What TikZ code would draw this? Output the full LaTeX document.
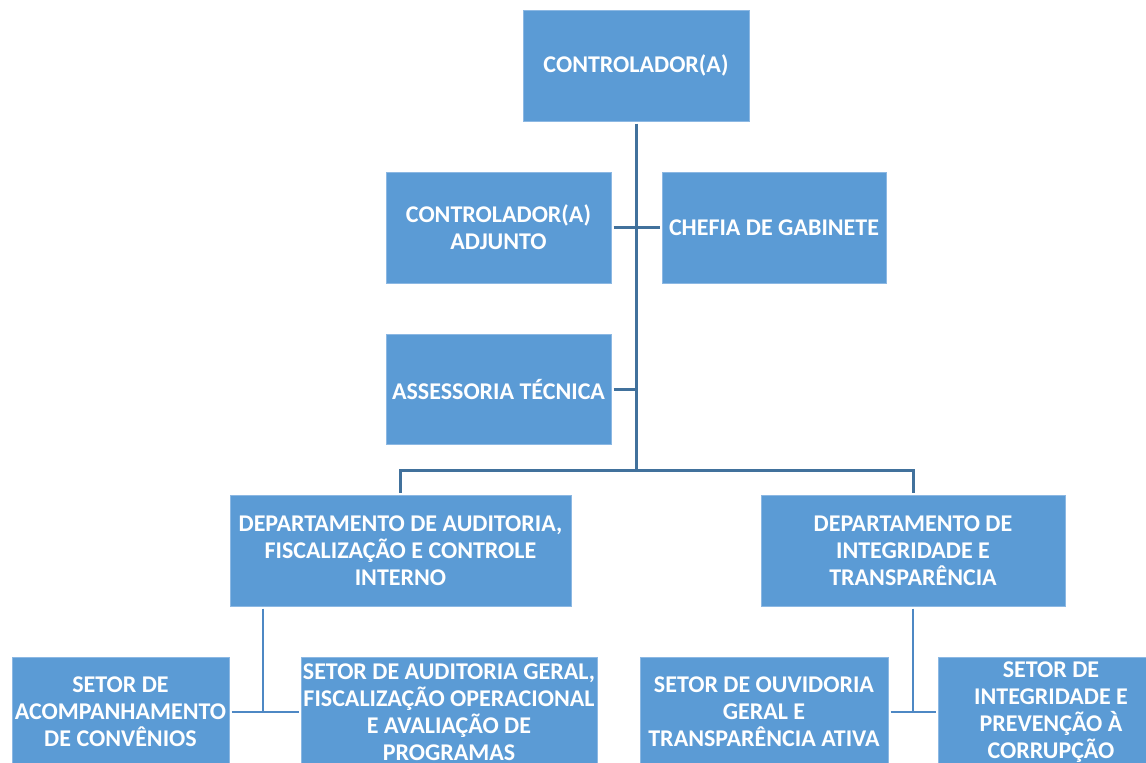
\documentclass[tikz,border=0pt]{standalone}
\usepackage{fontspec}
\setmainfont{Carlito}
\definecolor{boxfill}{HTML}{5B9BD5}
\definecolor{boxedge}{HTML}{8CB8E3}
\definecolor{trunkline}{HTML}{41719C}
\definecolor{subline}{HTML}{4E88C4}
\tikzset{
  orgbox/.style={rectangle, fill=boxfill, draw=boxedge, line width=0.8pt,
    text=white, align=center, inner sep=0pt, outer sep=2.5pt,
    font=\fontsize{24}{27}\selectfont\bfseries},
  trunk/.style={draw=trunkline, line width=3pt},
  branch/.style={draw=subline, line width=2.6pt}
}
\begin{document}
\begin{tikzpicture}[x=1pt,y=-1pt]
\useasboundingbox (0,0) rectangle (1146,763);
\clip (0,0) rectangle (1146,763);
\node[orgbox, minimum width=226, minimum height=111] (ctrl) at (636,65.5) {CONTROLADOR(A)};
\node[orgbox, minimum width=225, minimum height=111] (adj) at (498.5,227.5) {CONTROLADOR(A)\\ADJUNTO};
\node[orgbox, minimum width=224, minimum height=111] (chef) at (774,227.5) {CHEFIA DE GABINETE};
\node[orgbox, minimum width=225, minimum height=110] (assess) at (498.5,389) {ASSESSORIA TÉCNICA};
\node[orgbox, minimum width=341, minimum height=111] (dep1) at (400.5,550.5) {DEPARTAMENTO DE AUDITORIA,\\FISCALIZAÇÃO E CONTROLE\\INTERNO};
\node[orgbox, minimum width=304, minimum height=111] (dep2) at (913,550.5) {DEPARTAMENTO DE\\INTEGRIDADE E\\TRANSPARÊNCIA};
\node[orgbox, minimum width=217, minimum height=110] (acomp) at (120.5,712) {SETOR DE\\ACOMPANHAMENTO\\DE CONVÊNIOS};
\node[orgbox, minimum width=296, minimum height=110] (audit) at (449,712) {SETOR DE AUDITORIA GERAL,\\FISCALIZAÇÃO OPERACIONAL\\E AVALIAÇÃO DE\\PROGRAMAS};
\node[orgbox, minimum width=248, minimum height=110] (ouvid) at (764,712) {SETOR DE OUVIDORIA\\GERAL E\\TRANSPARÊNCIA ATIVA};
\node[orgbox, minimum width=226, minimum height=110] (integ) at (1051,712) {SETOR DE\\INTEGRIDADE E\\PREVENÇÃO À\\CORRUPÇÃO};
\coordinate (bus) at (636,470);
\coordinate (d1j) at (263,712);
\coordinate (d2j) at (913,712);
\draw[trunk] (ctrl.south) -- (bus);
\draw[trunk] (adj.east) -- (chef.west);
\draw[trunk] (assess.east) -- (assess.east -| bus);
\draw[trunk] (dep1.north) |- (bus) -| (dep2.north);
\draw[branch] (dep1.south -| d1j) -- (d1j);
\draw[branch] (acomp.east) -- (audit.west);
\draw[branch] (dep2.south) -- (d2j);
\draw[branch] (ouvid.east) -- (integ.west);
\end{tikzpicture}
\end{document}
